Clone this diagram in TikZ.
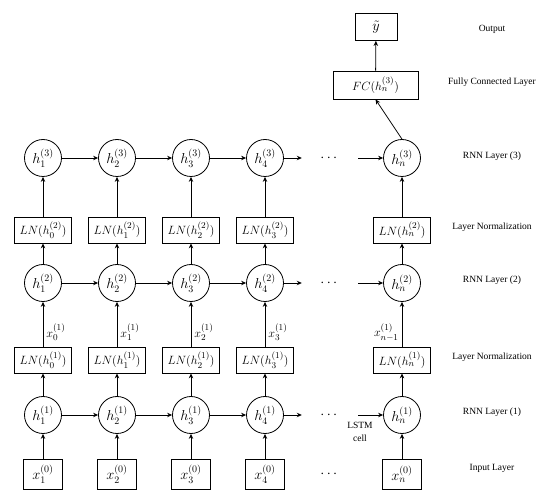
\documentclass[tikz,border=0pt]{standalone}
\usepackage{amsmath}
\usepackage{fontspec}
\setmainfont{Liberation Serif}
\usetikzlibrary{arrows.meta, positioning}

\begin{document}
\begin{tikzpicture}[
  x=1pt, y=-1pt,
  cell/.style={circle, draw=black, line width=0.8pt, minimum size=37pt,
               inner sep=0pt, font=\fontsize{14}{16}\selectfont},
  lnbox/.style={rectangle, draw=black, line width=0.8pt, minimum width=57pt,
                minimum height=26pt, inner sep=1pt, font=\fontsize{13}{16}\selectfont},
  inbox/.style={rectangle, draw=black, line width=0.8pt, minimum width=39pt,
                minimum height=30pt, inner sep=1pt, font=\fontsize{14}{16}\selectfont},
  dots/.style={minimum width=56pt, inner sep=0pt, font=\fontsize{15}{16}\selectfont},
  lbl/.style={font=\fontsize{9.5}{11}\selectfont, align=center},
  xlbl/.style={font=\fontsize{13}{15}\selectfont, inner sep=3pt},
  arrow/.style={-{Stealth[length=5pt, width=4.5pt]}, line width=0.8pt}
]
\useasboundingbox (0,0) rectangle (550,500);

% input layer
\node[inbox] (x1) at (43,474) {$x_1^{(0)}$};
\node[inbox] (x2) at (117,474) {$x_2^{(0)}$};
\node[inbox] (x3) at (191,474) {$x_3^{(0)}$};
\node[inbox] (x4) at (265,474) {$x_4^{(0)}$};
\node[dots] (dx) at (330,474) {$\cdots$};
\node[inbox] (xn) at (402,474) {$x_n^{(0)}$};

% rnn layer 1
\node[cell] (h11) at (43,415) {$h_1^{(1)}$};
\node[cell] (h12) at (117,415) {$h_2^{(1)}$};
\node[cell] (h13) at (191,415) {$h_3^{(1)}$};
\node[cell] (h14) at (265,415) {$h_4^{(1)}$};
\node[dots] (d1) at (330,415) {$\cdots$};
\node[cell] (h1n) at (402,415) {$h_n^{(1)}$};
\node[lbl] (lstm) at (360,432) {LSTM\\[2pt]cell};

% layer normalization 1
\node[lnbox] (ln11) at (43,360) {$LN(h_0^{(1)})$};
\node[lnbox] (ln12) at (117,360) {$LN(h_1^{(1)})$};
\node[lnbox] (ln13) at (191,360) {$LN(h_2^{(1)})$};
\node[lnbox] (ln14) at (265,360) {$LN(h_3^{(1)})$};
\node[lnbox] (ln1n) at (402,360) {$LN(h_n^{(1)})$};

% rnn layer 2
\node[cell] (h21) at (43,283) {$h_1^{(2)}$};
\node[cell] (h22) at (117,283) {$h_2^{(2)}$};
\node[cell] (h23) at (191,283) {$h_3^{(2)}$};
\node[cell] (h24) at (265,283) {$h_4^{(2)}$};
\node[dots] (d2) at (330,283) {$\cdots$};
\node[cell] (h2n) at (402,283) {$h_n^{(2)}$};

% layer normalization 2
\node[lnbox] (ln21) at (43,230) {$LN(h_0^{(2)})$};
\node[lnbox] (ln22) at (117,230) {$LN(h_1^{(2)})$};
\node[lnbox] (ln23) at (191,230) {$LN(h_2^{(2)})$};
\node[lnbox] (ln24) at (265,230) {$LN(h_3^{(2)})$};
\node[lnbox] (ln2n) at (402,230) {$LN(h_n^{(2)})$};

% rnn layer 3
\node[cell] (h31) at (43,158) {$h_1^{(3)}$};
\node[cell] (h32) at (117,158) {$h_2^{(3)}$};
\node[cell] (h33) at (191,158) {$h_3^{(3)}$};
\node[cell] (h34) at (265,158) {$h_4^{(3)}$};
\node[dots] (d3) at (330,158) {$\cdots$};
\node[cell] (h3n) at (402,158) {$h_n^{(3)}$};

% fully connected + output
\node[lnbox, minimum width=85pt, minimum height=28pt] (fc) at (375.5,85) {$FC(h_n^{(3)})$};
\node[inbox, minimum width=42pt, minimum height=27pt] (out) at (376,27) {$\tilde{y}$};

% layer names
\node[lbl] (nout) at (492,29) {Output};
\node[lbl] (nfc) at (492,82) {Fully Connected Layer};
\node[lbl] (nr3) at (492,156) {RNN Layer (3)};
\node[lbl] (nln2) at (492,227) {Layer Normalization};
\node[lbl] (nr2) at (492,280) {RNN Layer (2)};
\node[lbl] (nln1) at (492,357) {Layer Normalization};
\node[lbl] (nr1) at (492,412) {RNN Layer (1)};
\node[lbl] (nin) at (492,468) {Input Layer};

% input -> layer 1
\draw[arrow] (x1) -- (h11);
\draw[arrow] (x2) -- (h12);
\draw[arrow] (x3) -- (h13);
\draw[arrow] (x4) -- (h14);
\draw[arrow] (xn) -- (h1n);

% along layer 1
\draw[arrow] (h11) -- (h12);
\draw[arrow] (h12) -- (h13);
\draw[arrow] (h13) -- (h14);
\draw[arrow] (h14) -- (d1);
\draw[arrow] (d1) -- (h1n);

% layer 1 -> norm
\draw[arrow] (h11) -- (ln11);
\draw[arrow] (h12) -- (ln12);
\draw[arrow] (h13) -- (ln13);
\draw[arrow] (h14) -- (ln14);
\draw[arrow] (h1n) -- (ln1n);

% norm -> layer 2
\draw[arrow] (ln11) -- node[xlbl, right, pos=0.32] {$x_0^{(1)}$} (h21);
\draw[arrow] (ln12) -- node[xlbl, right, pos=0.32] {$x_1^{(1)}$} (h22);
\draw[arrow] (ln13) -- node[xlbl, right, pos=0.32] {$x_2^{(1)}$} (h23);
\draw[arrow] (ln14) -- node[xlbl, right, pos=0.32] {$x_3^{(1)}$} (h24);
\draw[arrow] (ln1n) -- node[xlbl, left, pos=0.32] {$x_{n-1}^{(1)}$} (h2n);

% along layer 2
\draw[arrow] (h21) -- (h22);
\draw[arrow] (h22) -- (h23);
\draw[arrow] (h23) -- (h24);
\draw[arrow] (h24) -- (d2);
\draw[arrow] (d2) -- (h2n);

% layer 2 -> norm
\draw[arrow] (h21) -- (ln21);
\draw[arrow] (h22) -- (ln22);
\draw[arrow] (h23) -- (ln23);
\draw[arrow] (h24) -- (ln24);
\draw[arrow] (h2n) -- (ln2n);

% norm -> layer 3
\draw[arrow] (ln21) -- (h31);
\draw[arrow] (ln22) -- (h32);
\draw[arrow] (ln23) -- (h33);
\draw[arrow] (ln24) -- (h34);
\draw[arrow] (ln2n) -- (h3n);

% along layer 3
\draw[arrow] (h31) -- (h32);
\draw[arrow] (h32) -- (h33);
\draw[arrow] (h33) -- (h34);
\draw[arrow] (h34) -- (d3);
\draw[arrow] (d3) -- (h3n);

% head
\draw[arrow] (h3n.north) -- (fc.south);
\draw[arrow] (fc) -- (out);

\end{tikzpicture}
\end{document}
